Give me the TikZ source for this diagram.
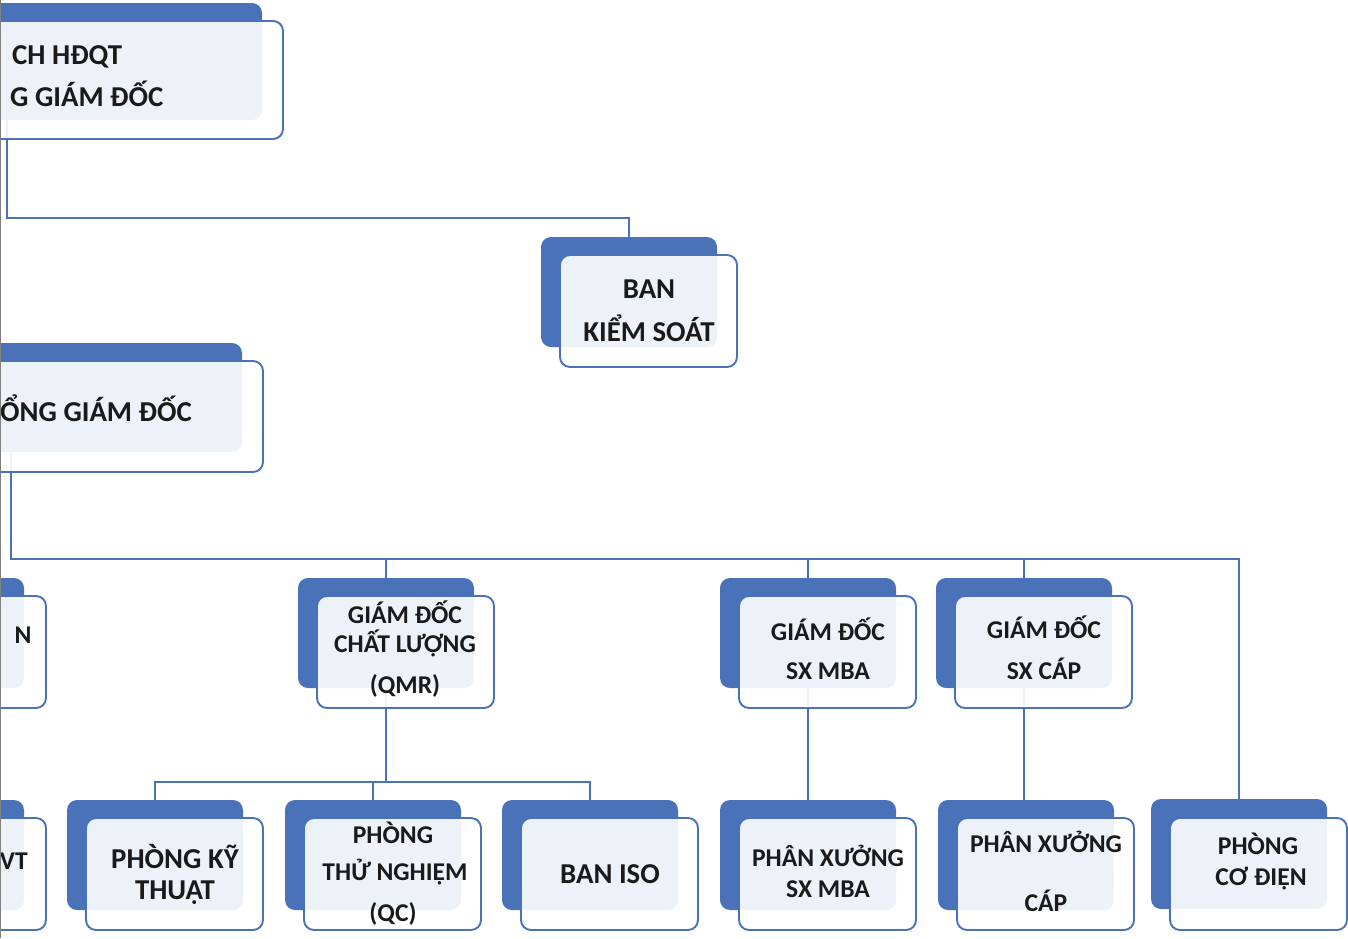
\documentclass[tikz,border=0pt]{standalone}
\usepackage{fontspec}
\setmainfont{Carlito}
\definecolor{myblue}{HTML}{4A72B8}
\definecolor{txt}{HTML}{1A1A1A}
\pgfdeclarelayer{bg}
\pgfsetlayers{bg,main}
\begin{document}
\begin{tikzpicture}[x=1pt,y=-1pt,
  back/.style={fill=myblue, rounded corners=10pt, inner sep=0pt, outer sep=0pt, anchor=north west, minimum width=176pt, minimum height=110pt},
  front/.style={draw=myblue, line width=1.9pt, fill=white, fill opacity=0.9, rounded corners=10pt, inner sep=0pt, outer sep=0pt, anchor=north west, minimum width=177pt, minimum height=112pt},
  conn/.style={draw=myblue, line width=2.2pt},
  lbl/.style={text=txt, font=\bfseries\fontsize{25.6}{30}\selectfont, inner sep=0pt, anchor=base},
  big/.style={font=\bfseries\fontsize{28.8}{34}\selectfont},
  lbll/.style={lbl, anchor=base west},
  lblr/.style={lbl, anchor=base east}]
\useasboundingbox (0,0) rectangle (1348,938);
% top box
\node[back, minimum width=510pt, minimum height=117pt] (top-b) at (-248,3) {};
\node[front, minimum width=510pt, minimum height=118pt] (top-f) at (-227,21) {};
% ban kiem soat
\node[back] (ks-b) at (541,237) {};
\node[front] (ks-f) at (560,255) {};
% tong giam doc
\node[back, minimum width=462pt, minimum height=109pt] (tgd-b) at (-220,343) {};
\node[front, minimum width=462pt, minimum height=111pt] (tgd-f) at (-199,361) {};
% second row
\node[back] (n-b) at (-152,578) {};
\node[front] (n-f) at (-131,596) {};
\node[back] (qmr-b) at (298,578) {};
\node[front] (qmr-f) at (317,596) {};
\node[back] (mba-b) at (720,578) {};
\node[front] (mba-f) at (739,596) {};
\node[back] (cap-b) at (936,578) {};
\node[front] (cap-f) at (955,596) {};
% third row
\node[back] (vt-b) at (-152,800) {};
\node[front] (vt-f) at (-131,818) {};
\node[back] (kt-b) at (67,800) {};
\node[front] (kt-f) at (86,818) {};
\node[back] (tn-b) at (285,800) {};
\node[front] (tn-f) at (304,818) {};
\node[back] (iso-b) at (502,800) {};
\node[front] (iso-f) at (521,818) {};
\node[back] (pxm-b) at (720,800) {};
\node[front] (pxm-f) at (739,818) {};
\node[back] (pxc-b) at (938,800) {};
\node[front] (pxc-f) at (957,818) {};
\node[back] (cd-b) at (1151,799) {};
\node[front] (cd-f) at (1170,818) {};
% connectors
\begin{pgfonlayer}{bg}
\draw[conn] (top-b.south) -- ++(0,98) -| (ks-b.north);
\draw[conn] (tgd-b.south) -- ++(0,107) -| (cd-b.north);
\draw[conn] (qmr-b.north) -- ++(0,-19);
\draw[conn] (mba-b.north) -- ++(0,-19);
\draw[conn] (cap-b.north) -- ++(0,-19);
\draw[conn] (qmr-b.south) -- ++(0,94) -| (kt-b.north);
\draw[conn] (qmr-b.south) ++(0,94) -| (iso-b.north);
\draw[conn] (tn-b.north) -- ++(0,-18);
\draw[conn] (mba-b.south) -- (mba-b.south |- pxm-b.north);
\draw[conn] (cap-b.south) -- (cap-b.south |- pxc-b.north);
\end{pgfonlayer}
% labels
\node[lbll, big] (top-t1) at (12,64) {CH HĐQT};
\node[lbll, big] (top-t2) at (10,106) {G GIÁM ĐỐC};
\node[lbl, big] (ks-t1) at (649,298) {BAN};
\node[lbl, big] (ks-t2) at (649,341) {KIỂM SOÁT};
\node[lbll, big] (tgd-t1) at (0,421) {ỔNG GIÁM ĐỐC};
\node[lbl] (n-t1) at (23,643) {N};
\node[lbl] (qmr-t1) at (405,623) {GIÁM ĐỐC};
\node[lbl] (qmr-t2) at (405,652) {CHẤT LƯỢNG};
\node[lbl] (qmr-t3) at (405,693) {(QMR)};
\node[lbl] (mba-t1) at (828,640) {GIÁM ĐỐC};
\node[lbl] (mba-t2) at (828,679) {SX MBA};
\node[lbl] (cap-t1) at (1044,638) {GIÁM ĐỐC};
\node[lbl] (cap-t2) at (1044,679) {SX CÁP};
\node[lblr] (vt-t1) at (28,869) {VT};
\node[lbl, big] (kt-t1) at (175,868) {PHÒNG KỸ};
\node[lbl, big] (kt-t2) at (175,899) {THUẬT};
\node[lbl] (tn-t1) at (393,843) {PHÒNG};
\node[lbl] (tn-t2) at (395,880) {THỬ NGHIỆM};
\node[lbl] (tn-t3) at (393,921) {(QC)};
\node[lbl, big] (iso-t1) at (610,883) {BAN ISO};
\node[lbl] (pxm-t1) at (828,866) {PHÂN XƯỞNG};
\node[lbl] (pxm-t2) at (828,897) {SX MBA};
\node[lbl] (pxc-t1) at (1046,852) {PHÂN XƯỞNG};
\node[lbl] (pxc-t2) at (1046,911) {CÁP};
\node[lbl] (cd-t1) at (1258,854) {PHÒNG};
\node[lbl] (cd-t2) at (1261,885) {CƠ ĐIỆN};
% left edge rule
\draw[gray, line width=1.3pt] (0.6,0) -- (0.6,938);
\end{tikzpicture}
\end{document}
